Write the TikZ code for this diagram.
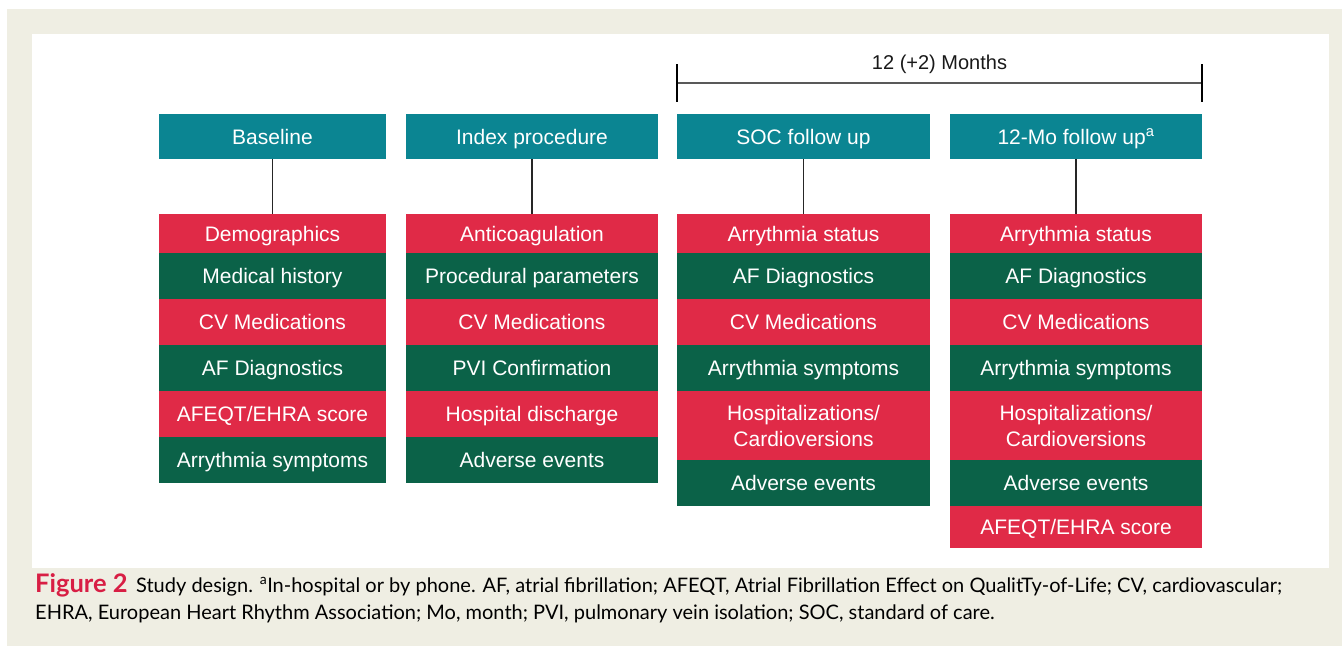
\documentclass[tikz,border=0pt]{standalone}
\usepackage{fontspec}
\setmainfont{Liberation Sans}
\newfontfamily\capfont{Lato}
\usetikzlibrary{positioning}
\definecolor{hdrteal}{RGB}{11,133,146}
\definecolor{itemred}{RGB}{224,42,71}
\definecolor{itemgreen}{RGB}{11,98,72}
\definecolor{paper}{RGB}{239,238,227}
\definecolor{figred}{RGB}{216,30,68}
\newcommand{\boxfont}{\fontsize{21}{26}\selectfont}
\tikzset{
  cell/.style={inner sep=0pt, outer sep=0pt, text=white, align=center, font=\boxfont,
    text height=15pt, text depth=0pt},
  hdr/.style={cell, fill=hdrteal, minimum height=45pt, anchor=north west},
  itemr/.style={cell, fill=itemred, minimum height=46pt},
  itemg/.style={cell, fill=itemgreen, minimum height=46pt},
  twoline/.style={minimum height=69pt, text height=41pt},
  conn/.style={black!85, line width=1.4pt},
}
\begin{document}
\begin{tikzpicture}[x=1pt,y=-1pt]
	\useasboundingbox (0,0) rectangle (1342,646);
	\fill[paper] (7,9) rectangle (1342,646);
	\fill[white] (32,34) rectangle (1329,568);

	% time span over the two follow ups
	\coordinate (spanL) at (677,83);
	\coordinate (spanR) at (1202,83);
	\draw[black!65, line width=2.5pt] (spanL) -- (spanR);
	\draw[black, line width=1.5pt] (677,64) -- (677,102);
	\draw[black, line width=1.5pt] (1202,64) -- (1202,102);
	\node[font=\fontsize{20}{24}\selectfont, text=black!90, anchor=base] (span) at (939.5,69) {12 (+2) Months};

	% baseline
	\node[hdr, minimum width=227pt] (base) at (159,114) {Baseline};
	\node[itemr, minimum width=227pt, anchor=north west, minimum height=39pt] (b1) at (159,214) {Demographics};
	\node[itemg, minimum width=227pt, below=0pt of b1] (b2) {Medical history};
	\node[itemr, minimum width=227pt, below=0pt of b2] (b3) {CV Medications};
	\node[itemg, minimum width=227pt, below=0pt of b3] (b4) {AF Diagnostics};
	\node[itemr, minimum width=227pt, below=0pt of b4] (b5) {AFEQT/EHRA score};
	\node[itemg, minimum width=227pt, below=0pt of b5] (b6) {Arrythmia symptoms};
	\draw[conn] (base.south) -- (b1.north);

	% index procedure
	\node[hdr, minimum width=252pt] (idx) at (406,114) {Index procedure};
	\node[itemr, minimum width=252pt, anchor=north west, minimum height=39pt] (i1) at (406,214) {Anticoagulation};
	\node[itemg, minimum width=252pt, below=0pt of i1] (i2) {Procedural parameters};
	\node[itemr, minimum width=252pt, below=0pt of i2] (i3) {CV Medications};
	\node[itemg, minimum width=252pt, below=0pt of i3] (i4) {PVI Confirmation};
	\node[itemr, minimum width=252pt, below=0pt of i4] (i5) {Hospital discharge};
	\node[itemg, minimum width=252pt, below=0pt of i5] (i6) {Adverse events};
	\draw[conn] (idx.south) -- (i1.north);

	% SOC follow up
	\node[hdr, minimum width=253pt] (soc) at (677,114) {SOC follow up};
	\node[itemr, minimum width=253pt, anchor=north west, minimum height=39pt] (s1) at (677,214) {Arrythmia status};
	\node[itemg, minimum width=253pt, below=0pt of s1] (s2) {AF Diagnostics};
	\node[itemr, minimum width=253pt, below=0pt of s2] (s3) {CV Medications};
	\node[itemg, minimum width=253pt, below=0pt of s3] (s4) {Arrythmia symptoms};
	\node[itemr, minimum width=253pt, below=0pt of s4, twoline] (s5) {Hospitalizations/\\Cardioversions};
	\node[itemg, minimum width=253pt, below=0pt of s5] (s6) {Adverse events};
	\draw[conn] (soc.south) -- (s1.north);

	% 12 month follow up
	\node[hdr, minimum width=252pt] (twelve) at (950,114) {12-Mo follow up\textsuperscript{a}};
	\node[itemr, minimum width=252pt, anchor=north west, minimum height=39pt] (m1) at (950,214) {Arrythmia status};
	\node[itemg, minimum width=252pt, below=0pt of m1] (m2) {AF Diagnostics};
	\node[itemr, minimum width=252pt, below=0pt of m2] (m3) {CV Medications};
	\node[itemg, minimum width=252pt, below=0pt of m3] (m4) {Arrythmia symptoms};
	\node[itemr, minimum width=252pt, below=0pt of m4, twoline] (m5) {Hospitalizations/\\Cardioversions};
	\node[itemg, minimum width=252pt, below=0pt of m5] (m6) {Adverse events};
	\node[itemr, minimum width=252pt, below=0pt of m6, minimum height=42pt] (m7) {AFEQT/EHRA score};
	\draw[conn] (twelve.south) -- (m1.north);

	% caption
	\node[anchor=base west, inner sep=0pt, font=\capfont\fontsize{20}{24}\selectfont] (cap1) at (35,592)
	  {\textcolor{figred}{\fontsize{25.5}{24}\selectfont\bfseries Figure 2}\ \,Study design. \textsuperscript{a}In-hospital or by phone. AF, atrial fibrillation; AFEQT, Atrial Fibrillation Effect on QualitTy-of-Life; CV, cardiovascular;};
	\node[anchor=base west, inner sep=0pt, font=\capfont\fontsize{20}{24}\selectfont] (cap2) at (35,619)
	  {EHRA, European Heart Rhythm Association; Mo, month; PVI, pulmonary vein isolation; SOC, standard of care.};
\end{tikzpicture}
\end{document}
